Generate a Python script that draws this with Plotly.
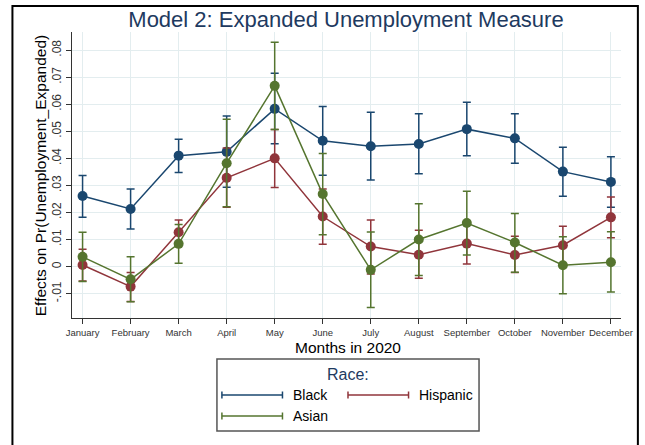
import plotly.graph_objects as go

months = ["January", "February", "March", "April", "May", "June", "July",
          "August", "September", "October", "November", "December"]
month_num = list(range(1, 13))

black = [0.0261, 0.0213, 0.0410, 0.0424, 0.0583, 0.0465, 0.0445, 0.0453, 0.0508, 0.0474, 0.0351, 0.0313]
black_hi = [0.0337, 0.0287, 0.0471, 0.0557, 0.0715, 0.0592, 0.0570, 0.0565, 0.0607, 0.0565, 0.0441, 0.0406]
black_lo = [0.0182, 0.0139, 0.0348, 0.0293, 0.0454, 0.0338, 0.0320, 0.0343, 0.0410, 0.0382, 0.0260, 0.0219]

hisp = [0.0006, -0.0074, 0.0127, 0.0328, 0.0400, 0.0185, 0.0074, 0.0044, 0.0085, 0.0043, 0.0079, 0.0182]
hisp_hi = [0.0064, -0.0022, 0.0172, 0.0438, 0.0507, 0.0287, 0.0172, 0.0134, 0.0160, 0.0112, 0.0149, 0.0257]
hisp_lo = [-0.0053, -0.0129, 0.0082, 0.0219, 0.0292, 0.0083, -0.0027, -0.0043, 0.0010, -0.0022, 0.0009, 0.0107]

asian = [0.0036, -0.0047, 0.0084, 0.0382, 0.0668, 0.0268, -0.0012, 0.0100, 0.0161, 0.0089, 0.0005, 0.0016]
asian_hi = [0.0127, 0.0036, 0.0156, 0.0545, 0.0829, 0.0418, 0.0128, 0.0232, 0.0278, 0.0196, 0.0110, 0.0129]
asian_lo = [-0.0055, -0.0130, 0.0012, 0.0221, 0.0507, 0.0118, -0.0151, -0.0033, 0.0043, -0.0021, -0.0100, -0.0094]

ytick_vals = [-0.01, 0, 0.01, 0.02, 0.03, 0.04, 0.05, 0.06, 0.07, 0.08]
ytick_text = ["-.01", "0", ".01", ".02", ".03", ".04", ".05", ".06", ".07", ".08"]

series = [
    ("Black", black, black_hi, black_lo, "#1a476f"),
    ("Hispanic", hisp, hisp_hi, hisp_lo, "#90353b"),
    ("Asian", asian, asian_hi, asian_lo, "#55752f"),
]

FONT = "Arial, Liberation Sans, sans-serif"
W, H = 645, 445
L, R, T, B = 72, 20, 32, 127
PW, PH = W - L - R, H - T - B


def px(x):
    return (x - L) / PW


def py(y):
    return (H - B - y) / PH


fig = go.Figure()
for name, y, hi, lo, col in series:
    fig.add_trace(go.Scatter(
        x=month_num, y=y, name=name, mode="lines+markers",
        line=dict(color=col, width=1.5),
        marker=dict(color=col, size=10),
        error_y=dict(type="data", symmetric=False,
                     array=[h - v for h, v in zip(hi, y)],
                     arrayminus=[v - l for l, v in zip(lo, y)],
                     color=col, thickness=1.5, width=4),
        showlegend=False,
    ))

shapes = []
annotations = []

# outer frame
shapes.append(dict(type="rect", xref="paper", yref="paper",
                   x0=px(12), x1=px(642), y0=py(470), y1=py(6),
                   line=dict(color="black", width=2), layer="below"))

# legend box
shapes.append(dict(type="rect", xref="paper", yref="paper",
                   x0=px(218), x1=px(482), y0=py(431), y1=py(359),
                   line=dict(color="#555555", width=1.5)))
annotations.append(dict(text="Race:", xref="paper", yref="paper", x=px(350), y=py(374),
                        showarrow=False, xanchor="center", yanchor="middle",
                        font=dict(family=FONT, size=16, color="#1e3a5f")))

legend_pos = [(223, 284, 395, 293), (350, 411, 395, 420), (223, 284, 416, 293)]
for (name, _, _, _, col), (lx0, lx1, ly, tx) in zip(series, legend_pos):
    shapes.append(dict(type="line", xref="paper", yref="paper",
                       x0=px(lx0), x1=px(lx1), y0=py(ly), y1=py(ly),
                       line=dict(color=col, width=1.5)))
    for cx in (lx0, lx1):
        shapes.append(dict(type="line", xref="paper", yref="paper",
                           x0=px(cx), x1=px(cx), y0=py(ly - 3.5), y1=py(ly + 3.5),
                           line=dict(color=col, width=1.5)))
    annotations.append(dict(text=name, xref="paper", yref="paper", x=px(tx), y=py(ly),
                            showarrow=False, xanchor="left", yanchor="middle",
                            font=dict(family=FONT, size=14, color="black")))

# axis titles
annotations.append(dict(text="Months in 2020", xref="paper", yref="paper", x=px(350), y=py(347),
                        showarrow=False, xanchor="center", yanchor="middle",
                        font=dict(family=FONT, size=15.5, color="black")))
annotations.append(dict(text="Effects on Pr(Unemployment_Expanded)", xref="paper", yref="paper",
                        x=px(40), y=py(176), textangle=-90,
                        showarrow=False, xanchor="center", yanchor="middle",
                        font=dict(family=FONT, size=15.5, color="black")))

fig.update_layout(
    width=W, height=H,
    margin=dict(l=L, r=R, t=T, b=B),
    paper_bgcolor="white", plot_bgcolor="white",
    title=dict(text="Model 2: Expanded Unemployment Measure", x=px(348), xref="paper",
               xanchor="center", y=1 - 19 / H, yref="container", yanchor="middle",
               font=dict(family=FONT, size=22, color="#1e3a5f")),
    xaxis=dict(range=[0.78, 12.21], tickvals=month_num, ticktext=months,
               showgrid=True, gridcolor="#e3edef", gridwidth=1,
               showline=True, linecolor="#333333", linewidth=1.2,
               ticks="outside", ticklen=5, tickcolor="#333333",
               tickfont=dict(family=FONT, size=9.5, color="#333333"),
               zeroline=False),
    yaxis=dict(range=[-0.019, 0.0867], tickvals=ytick_vals, ticktext=ytick_text,
               tickangle=-90,
               showgrid=True, gridcolor="#e3edef", gridwidth=1,
               showline=True, linecolor="#333333", linewidth=1.2,
               ticks="outside", ticklen=5, tickcolor="#333333",
               tickfont=dict(family=FONT, size=12, color="#333333"),
               zeroline=False),
    shapes=shapes,
    annotations=annotations,
)

fig.write_html("out.html")
